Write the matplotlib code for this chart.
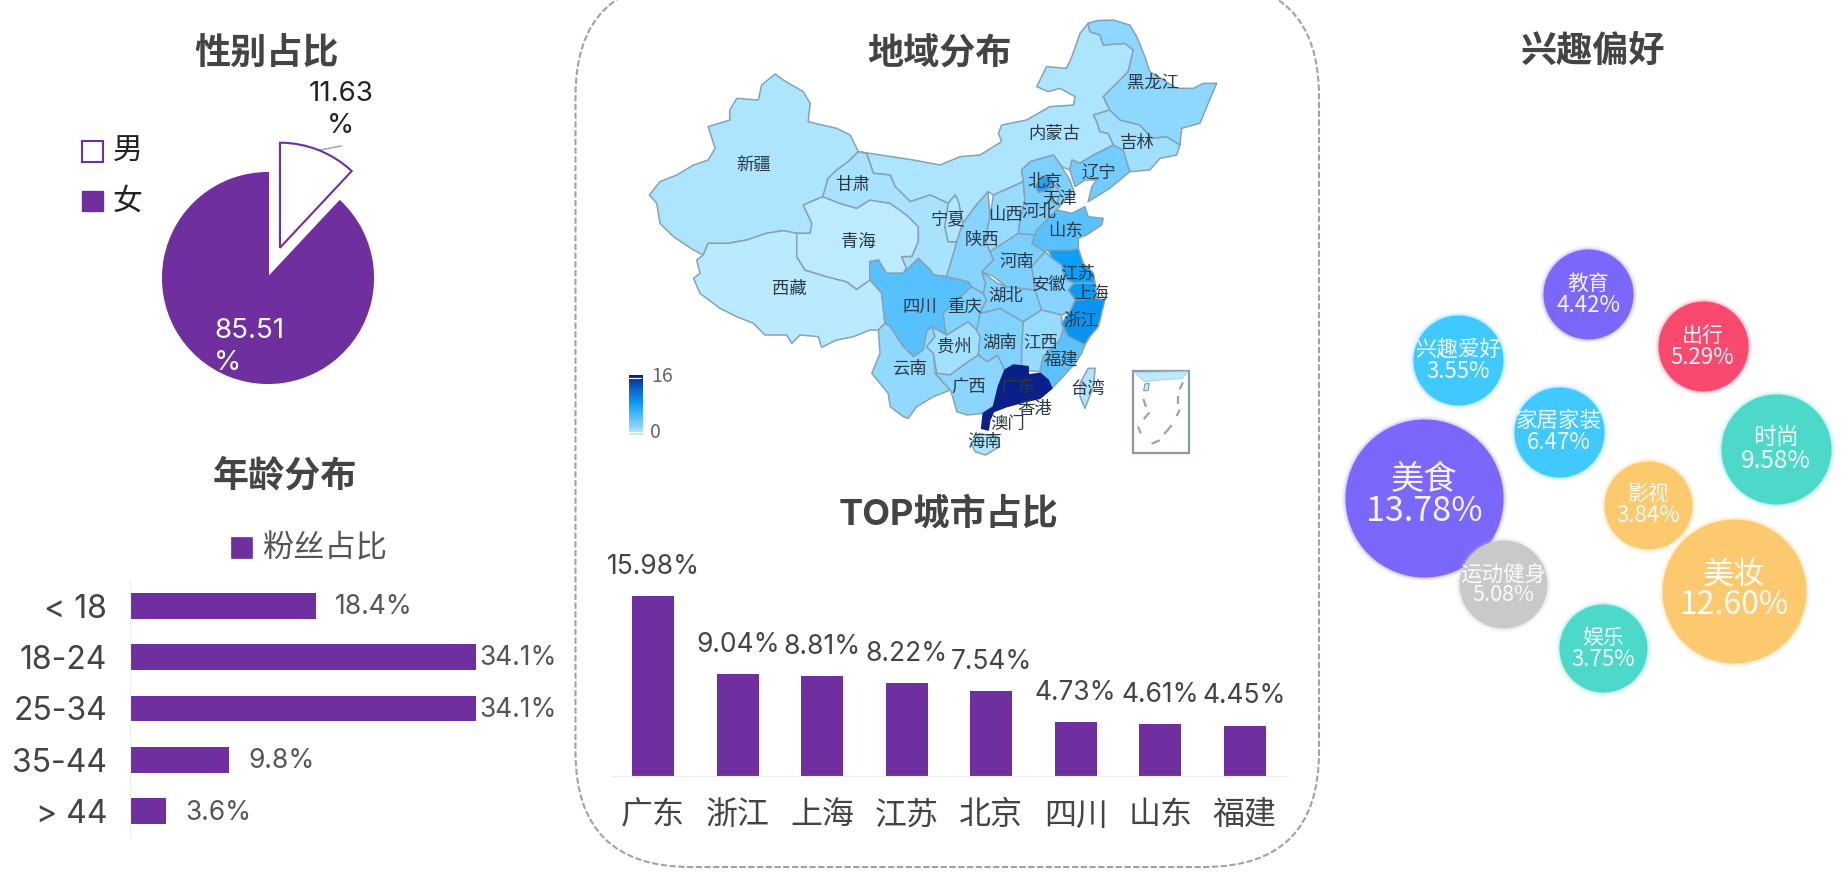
import matplotlib
matplotlib.use("Agg")
import matplotlib.pyplot as plt
import numpy as np
from matplotlib.colors import LinearSegmentedColormap, Normalize
from matplotlib.patches import FancyBboxPatch, Rectangle

plt.rcParams['font.family'] = ['Noto Sans CJK SC', 'DejaVu Sans']
LATIN = ['Inter', 'Noto Sans CJK SC', 'DejaVu Sans']

W, H = 1846, 876
PURPLE = '#6f2f9f'

# ---------- data ----------
gender_labels = ['男', '女']
gender_values = [11.63, 85.51]

age_labels = ['< 18', '18-24', '25-34', '35-44', '> 44']
age_values = [18.4, 34.1, 34.1, 9.8, 3.6]

city_labels = ['广东', '浙江', '上海', '江苏', '北京', '四川', '山东', '福建']
city_values = [15.98, 9.04, 8.81, 8.22, 7.54, 4.73, 4.61, 4.45]

interest_names = ['美食', '运动健身', '教育', '出行', '兴趣爱好', '家居家装', '时尚', '影视', '美妆', '娱乐']
interest_values = [13.78, 5.08, 4.42, 5.29, 3.55, 6.47, 9.58, 3.84, 12.60, 3.75]
interest_x = [1424, 1503.3, 1588.3, 1702.7, 1458.3, 1559, 1776, 1648.3, 1734.3, 1602.7]
interest_y = [497.7, 584.3, 294, 346, 360, 431.7, 449, 505, 591, 648.3]
interest_r = [79, 44, 45, 45, 45, 45, 55, 44, 72, 44]
interest_colors = ['#7c67fd', '#c9c9c9', '#7c67fb', '#f9496f', '#3fc9ff', '#3fc9ff',
                   '#4cd9ca', '#fdc96e', '#fdc96e', '#4cd9ca']
interest_fs = [(24, 24.5), (15.5, 15.5), (15, 16), (15, 16), (15.5, 16), (15.5, 16),
               (16.5, 17.5), (15, 16), (22.5, 23), (15, 16)]
interest_dy = [(-18, 14), (-10, 11), (-10, 11), (-10, 11), (-10, 11), (-11, 11),
               (-11, 12), (-11, 11), (-15, 14), (-10, 11)]

# province shading estimates (scale 0-16)
province_values = {
    '新疆': 0.9, '西藏': 0.45, '青海': 0.4, '内蒙古': 0.9, '甘肃': 1.0, '宁夏': 0.7,
    '四川': 4.73, '云南': 1.8, '贵州': 1.2, '重庆': 2.5, '广西': 2.0, '湖南': 2.5,
    '湖北': 2.5, '河南': 2.8, '陕西': 2.2, '山西': 1.6, '河北': 2.7, '北京': 7.54,
    '天津': 2.2, '山东': 4.61, '江苏': 8.22, '上海': 8.81, '浙江': 9.04, '安徽': 2.2,
    '江西': 1.6, '福建': 4.45, '广东': 15.98, '海南': 0.9, '台湾': 0.9, '辽宁': 3.3,
    '吉林': 1.3, '黑龙江': 1.9,
}
# outlines in map units (the map axes runs 0-1568 by 0-1440)
province_outlines = {
    '新疆': [(72,585),(98,545),(139,525),(180,495),(216,480),(233,445),(216,380),(269,360),(269,330),(286,295),(339,300),(347,255),(380,222),(400,240),(449,275),(466,310),(461,365),(531,385),(564,405),(584,455),(559,485),(531,510),(510,535),(497,590),(449,615),(470,670),(466,700),(433,700),(400,692),(359,700),(310,720),(265,730),(216,730),(204,765),(180,750),(131,710),(98,670),(90,610)],
    '西藏': [(204,765),(216,730),(265,730),(310,720),(359,700),(400,692),(433,700),(433,770),(453,810),(506,830),(555,845),(580,868),(612,840),(612,785),(633,780),(641,880),(649,970),(633,990),(612,990),(572,1010),(531,1020),(494,1042),(486,1010),(441,1005),(421,1030),(408,1005),(355,1005),(327,970),(286,950),(245,925),(196,880),(180,835),(196,820),(188,780)],
    '青海': [(449,615),(497,590),(539,610),(580,625),(612,600),(662,610),(702,645),(731,680),(731,725),(715,770),(690,770),(702,805),(694,820),(653,820),(633,780),(612,785),(612,840),(580,868),(555,845),(506,830),(453,810),(433,770),(433,700),(466,700),(470,670)],
    '内蒙古': [(584,455),(612,460),(719,480),(784,495),(833,470),(882,465),(935,425),(927,400),(935,375),(996,360),(1053,320),(1111,315),(1115,290),(1078,265),(1049,275),(1021,260),(1045,200),(1094,205),(1107,170),(1127,100),(1147,70),(1151,95),(1176,105),(1184,135),(1237,130),(1258,150),(1245,215),(1217,250),(1184,290),(1200,330),(1160,345),(1168,365),(1176,395),(1196,400),(1209,435),(1160,465),(1127,490),(1107,480),(1102,510),(1082,500),(1062,465),(1005,485),(984,510),(988,545),(915,585),(902,575),(870,620),(840,670),(829,605),(821,585),(804,610),(760,585),(711,605),(674,560),(662,525),(621,520),(604,460)],
    '甘肃': [(584,455),(604,460),(621,520),(662,525),(674,560),(711,605),(760,585),(804,610),(796,680),(804,725),(825,725),(821,745),(800,830),(768,825),(760,810),(731,775),(694,820),(702,805),(690,770),(715,770),(731,725),(731,680),(702,645),(662,610),(612,600),(580,625),(539,610),(497,590),(510,535),(531,510),(559,485)],
    '宁夏': [(821,585),(804,610),(796,680),(804,725),(825,725),(840,670),(829,605)],
    '四川': [(612,785),(633,780),(653,820),(694,820),(731,775),(760,810),(768,825),(800,830),(853,845),(862,860),(825,900),(792,940),(796,980),(800,1005),(768,980),(751,995),(743,1050),(719,1070),(694,1040),(662,980),(649,970),(641,880),(612,840)],
    '云南': [(649,970),(662,980),(694,1040),(719,1070),(743,1050),(751,995),(764,980),(772,1010),(751,1040),(768,1060),(772,1120),(809,1170),(768,1190),(727,1220),(706,1255),(694,1250),(662,1220),(657,1180),(617,1120),(637,1060),(633,990)],
    '贵州': [(764,980),(800,1005),(833,980),(853,965),(874,990),(882,1010),(878,1065),(853,1085),(809,1125),(776,1120),(768,1060),(751,1040),(772,1010)],
    '重庆': [(862,860),(890,880),(898,900),(882,940),(878,970),(874,990),(853,965),(833,980),(800,1005),(796,980),(792,940),(825,900)],
    '广西': [(776,1120),(809,1125),(853,1085),(878,1065),(900,1085),(925,1065),(943,1110),(927,1160),(915,1220),(890,1240),(850,1245),(825,1235),(815,1190),(809,1170),(772,1120)],
    '湖南': [(882,940),(931,925),(988,965),(984,1050),(984,1110),(943,1110),(925,1065),(900,1085),(878,1065),(882,1010),(874,990),(878,970)],
    '湖北': [(886,815),(925,850),(947,860),(1017,870),(1033,930),(988,965),(931,925),(882,940),(898,900),(890,880),(895,850)],
    '河南': [(906,755),(976,700),(1017,705),(1009,730),(1041,755),(1009,800),(1017,870),(947,860),(915,830),(886,815),(915,780)],
    '陕西': [(902,575),(906,650),(895,720),(906,755),(915,780),(886,815),(895,850),(890,880),(862,860),(853,845),(800,830),(821,745),(825,725),(840,670),(870,620)],
    '山西': [(915,585),(988,545),(992,600),(980,660),(976,700),(906,755),(895,720),(906,650)],
    '河北': [(984,510),(1005,485),(1062,465),(1082,500),(1102,540),(1111,570),(1070,630),(1021,690),(1017,705),(976,700),(980,660),(992,600),(988,545)],
    '北京': [(1017,560),(1029,535),(1049,525),(1062,545),(1049,570),(1025,578)],
    '天津': [(1054,575),(1066,555),(1078,580),(1070,615),(1054,600)],
    '山东': [(1070,630),(1107,640),(1139,620),(1147,650),(1184,655),(1180,675),(1143,705),(1123,715),(1123,745),(1107,750),(1049,750),(1041,755),(1009,730),(1021,690)],
    '江苏': [(1049,750),(1107,750),(1123,745),(1135,790),(1160,820),(1164,850),(1111,850),(1090,835),(1082,795),(1058,775)],
    '上海': [(1111,850),(1164,850),(1168,895),(1115,900),(1098,870)],
    '浙江': [(1115,900),(1168,895),(1188,900),(1180,940),(1172,980),(1151,1010),(1139,1035),(1115,1020),(1098,1010),(1082,970),(1102,935)],
    '安徽': [(1041,755),(1058,775),(1082,795),(1090,835),(1111,850),(1098,870),(1115,900),(1102,935),(1082,945),(1033,930),(1017,870),(1009,800)],
    '江西': [(988,965),(1033,930),(1082,945),(1082,970),(1086,990),(1078,1020),(1037,1070),(1029,1115),(984,1110),(984,1050)],
    '福建': [(1086,990),(1098,1010),(1115,1020),(1139,1035),(1131,1060),(1115,1090),(1078,1140),(1058,1165),(1029,1115),(1037,1070),(1078,1020)],
    '广东': [(943,1110),(964,1095),(1000,1100),(1000,1125),(1029,1120),(1049,1140),(1058,1165),(1029,1195),(992,1205),(947,1220),(915,1235),(906,1260),(902,1290),(886,1285),(890,1240),(915,1220),(927,1160)],
    '海南': [(860,1330),(880,1300),(925,1310),(930,1340),(895,1365),(870,1355)],
    '台湾': [(1127,1150),(1147,1105),(1164,1105),(1160,1160),(1139,1225),(1127,1190)],
    '辽宁': [(1102,510),(1107,480),(1127,490),(1160,465),(1209,435),(1233,450),(1249,515),(1200,565),(1147,605),(1156,560),(1168,540),(1139,540),(1115,560)],
    '吉林': [(1160,345),(1200,330),(1225,360),(1274,375),(1303,415),(1339,410),(1372,435),(1364,465),(1323,475),(1298,510),(1249,515),(1233,450),(1209,435),(1196,400),(1176,395),(1168,365)],
    '黑龙江': [(1147,70),(1168,62),(1209,60),(1249,75),(1266,110),(1286,170),(1298,215),(1364,265),(1405,265),(1429,250),(1462,250),(1441,310),(1421,370),(1376,385),(1372,435),(1339,410),(1303,415),(1274,375),(1225,360),(1200,330),(1184,290),(1217,250),(1245,215),(1258,150),(1237,130),(1184,135),(1176,105),(1151,95)],
}
map_label_names = ['新疆','甘肃','青海','西藏','宁夏','四川','重庆','云南','贵州','广西','湖南','江西','湖北','河南','陕西','山西','河北','北京','天津','山东','安徽','江苏','上海','浙江','福建','广东','香港','澳门','海南','台湾','辽宁','吉林','黑龙江','内蒙古']
map_label_x = [328,570,583,415,805,735,845,710,818,855,930,1030,945,972,887,944,1026,1040,1078,1092,1052,1122,1155,1130,1080,975,1015,950,893,1145,1172,1268,1305,1065]
map_label_y = [496,554,726,866,661,921,921,1106,1041,1164,1028,1028,888,786,721,646,636,547,597,694,854,821,881,964,1078,1164,1228,1271,1326,1166,521,429,249,403]
inset_coast = [(1262,1118),(1390,1115),(1378,1135),(1320,1140),(1285,1145)]
inset_island = [(1283,1172),(1286,1152),(1297,1150),(1294,1172)]
inset_dashes = [[(1283,1200),(1288,1218)], [(1285,1255),(1295,1240)], [(1270,1283),(1275,1297)],
                [(1305,1330),(1320,1322)], [(1335,1300),(1350,1278)], [(1365,1245),(1370,1232)],
                [(1367,1192),(1367,1210)], [(1372,1165),(1378,1150)]]

map_cmap = LinearSegmentedColormap.from_list('map', [
    (0.0, '#c8efff'), (0.125, '#8ad6ff'), (0.30, '#55bfff'), (0.52, '#0a9ffa'),
    (0.75, '#0a68cf'), (1.0, '#0a2088')])
map_norm = Normalize(0, 16)


def axpx(l, t, r, b, **kw):
    return fig.add_axes([l / W, 1 - b / H, (r - l) / W, (b - t) / H], **kw)


fig = plt.figure(figsize=(W / 100, H / 100), dpi=100, facecolor='white')

# overlay in pixel units: frame, titles and free text
ov = axpx(0, 0, W, H)
ov.set_xlim(0, W)
ov.set_ylim(H, 0)
ov.axis('off')
ov.add_patch(FancyBboxPatch((575.5 + 115, -19 + 115), 1319 - 575.5 - 230, 867 + 19 - 230,
                            boxstyle='round,pad=115,rounding_size=115', fc='none',
                            ec='#a2a2a2', lw=1.5, ls=(0, (3, 1.2))))


def title(x, y, s):
    ov.text(x, y, s, ha='center', va='center', fontsize=26, fontweight='bold', color='#444444',
            family=LATIN)


title(267, 54, '性别占比')
title(939, 54, '地域分布')
title(284.5, 476, '年龄分布')
title(949, 514, 'TOP城市占比')
title(1593, 52, '兴趣偏好')

# ---------- gender pie ----------
R = 105
axp = axpx(268 - 1.5 * R, 278 - 1.5 * R, 268 + 1.5 * R, 278 + 1.5 * R)
wedges, _ = axp.pie(gender_values, explode=[0.31, 0], startangle=90, counterclock=False,
                    colors=['white', PURPLE], wedgeprops=dict(linewidth=1.5, edgecolor=PURPLE),
                    radius=1, center=(0, 0))
axp.set_xlim(-1.5, 1.5)
axp.set_ylim(-1.5, 1.5)
axp.set_aspect('equal')
axp.axis('off')
ov.plot([320, 341], [150, 146], color='#aaaaaa', lw=1.2)
ov.text(341, 94, f'{gender_values[0]:.2f}', ha='center', va='center', fontsize=20, color='#222222', family=LATIN)
ov.text(341, 126, '%', ha='center', va='center', fontsize=20, color='#222222', family=LATIN)
tp = dict(ha='left', va='center', fontsize=20, color='white', zorder=10, family=LATIN)
axt = axpx(0, 0, W, H, facecolor='none', zorder=5)
axt.set_xlim(0, W)
axt.set_ylim(H, 0)
axt.axis('off')
axt.text(214, 331, f'{gender_values[1]:.2f}', **tp)
axt.text(214, 363, '%', **tp)
ov.add_patch(Rectangle((82, 141), 21, 21, fc='white', ec=PURPLE, lw=1.5))
ov.add_patch(Rectangle((82, 191), 21, 20, fc=PURPLE, ec=PURPLE, lw=1))
ov.text(128, 151, gender_labels[0], ha='center', va='center', fontsize=21.5, color='#222222')
ov.text(128, 201, gender_labels[1], ha='center', va='center', fontsize=21.5, color='#222222')

# ---------- age bars ----------
axa = axpx(129.5, 580, 475.6, 837)
ypos = np.arange(len(age_values))
axa.barh(ypos, age_values, height=0.5, color=PURPLE)
axa.set_xlim(0, 34.1)
axa.set_ylim(4.5, -0.5)
axa.set_yticks(ypos)
axa.set_yticklabels(age_labels, fontsize=23, color='#444444', family=LATIN)
axa.set_xticks([])
axa.tick_params(axis='y', length=0, pad=16)
for s in ['top', 'right', 'bottom']:
    axa.spines[s].set_visible(False)
axa.spines['left'].set_color('#eeeeee')
for y, v in zip(ypos, age_values):
    off = 3.7 if v > 30 else 19
    axa.annotate(f'{v}%', (v, y), xytext=(off * 0.72, -1), textcoords='offset points',
                 va='center', ha='left', fontsize=19, color='#555555', annotation_clip=False,
                 family=LATIN)
ov.add_patch(Rectangle((231, 537), 21, 21, fc=PURPLE, ec=PURPLE, lw=0.5))
ov.text(325, 548, '粉丝占比', ha='center', va='center', fontsize=22.5, color='#555555')

# ---------- city bars ----------
axc = axpx(611, 595.7, 1287, 775.7)
xpos = np.arange(len(city_values))
axc.bar(xpos, city_values, width=0.5, color=PURPLE)
axc.set_xlim(-0.5, 7.5)
axc.set_ylim(0, 15.98)
axc.set_yticks([])
axc.set_xticks(xpos)
axc.set_xticklabels(city_labels, fontsize=23, color='#444444')
axc.tick_params(axis='x', length=0, pad=17)
for s in ['top', 'right', 'left']:
    axc.spines[s].set_visible(False)
axc.spines['bottom'].set_color('#eeeeee')
for x, v in zip(xpos, city_values):
    axc.annotate(f'{v:.2f}%', (x, v), xytext=(0, 21), textcoords='offset points',
                 va='center', ha='center', fontsize=19, color='#444444', annotation_clip=False,
                 family=LATIN)

# ---------- map ----------
axm = axpx(620, 0, 1260, 480)
axm.set_xlim(0, 1568)
axm.set_ylim(1440, 0)
axm.axis('off')
axm.patch.set_alpha(0)
for name, pts in province_outlines.items():
    xs, ys = zip(*pts)
    edge = '#0a2088' if name == '广东' else '#86a3b3'
    axm.fill(xs, ys, facecolor=map_cmap(map_norm(province_values[name])),
             edgecolor=edge, lw=1.1, joinstyle='round')
for name, x, y in zip(map_label_names, map_label_x, map_label_y):
    axm.text(x, y, name, ha='center', va='center', fontsize=12.5, color='#2a3a44')
axm.add_patch(Rectangle((1257, 1113), 136, 245, fc='white', ec='#8a9aa5', lw=1.6))
xs, ys = zip(*inset_coast)
axm.fill(xs, ys, facecolor='#bdeaff', edgecolor='#a9d4e8', lw=0.8)
xs, ys = zip(*inset_island)
axm.fill(xs, ys, facecolor='#bdeaff', edgecolor='#8a9aa5', lw=0.8)
for seg in inset_dashes:
    xs, ys = zip(*seg)
    axm.plot(xs, ys, color='#9aa5ad', lw=1.6)

# colour scale
axb = axpx(629, 375, 642.4, 435)
axb.imshow(np.linspace(1, 0, 128)[:, None], cmap=map_cmap, aspect='auto', vmin=0, vmax=1)
axb.axis('off')
ov.text(662, 376, '16', ha='center', va='center', fontsize=14, color='#666666')
ov.text(655, 433, '0', ha='center', va='center', fontsize=14, color='#666666')
axw = axpx(629, 375, 642.4, 435, facecolor='none', zorder=6)
axw.axis('off')
axw.set_xlim(0, 1)
axw.set_ylim(1, 0)
axw.plot([0, 1], [0.05, 0.05], color='white', lw=0.8)
axw.plot([0, 1], [0.95, 0.95], color='white', lw=0.8)

# ---------- interest bubbles ----------
axi = axpx(0, 0, W, H, facecolor='none', zorder=4)
axi.set_xlim(0, W)
axi.set_ylim(H, 0)
axi.axis('off')
for i in range(len(interest_names)):
    x, y, r, c = interest_x[i], interest_y[i], interest_r[i], interest_colors[i]
    for grow, alpha in [(4, 0.06), (2.6, 0.1), (1.2, 0.2)]:
        axi.scatter([x], [y], s=(2 * (r + grow) * 0.72) ** 2, color=c, alpha=alpha, lw=0, zorder=2 + i)
    axi.scatter([x], [y], s=(2 * r * 0.72) ** 2, color=c, lw=0, zorder=2 + i)
    d1, d2 = interest_dy[i]
    f1, f2 = interest_fs[i]
    axi.text(x, y + d1, interest_names[i], ha='center', va='center', fontsize=f1, color='white',
             alpha=0.93, zorder=30)
    axi.text(x, y + d2, f'{interest_values[i]:.2f}%', ha='center', va='center', fontsize=f2,
             color='white', alpha=0.93, zorder=30)

fig.savefig('out.png', dpi=100)
